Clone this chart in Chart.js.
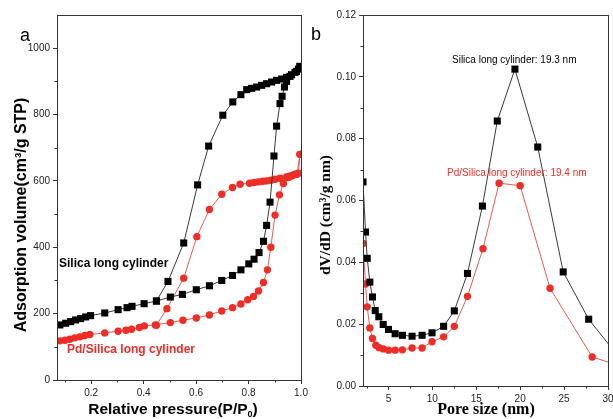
<!DOCTYPE html>
<html>
<head>
<meta charset="utf-8">
<script src="https://cdn.jsdelivr.net/npm/chart.js@4.4.0/dist/chart.umd.min.js"></script>
<style>
  html, body { margin: 0; padding: 0; background: #fff; }
  #wrap { position: relative; width: 613px; height: 419px; overflow: hidden; }
  #chartA { position: absolute; left: 0; top: 0; }
  #chartB { position: absolute; left: 306px; top: 0; }
</style>
</head>
<body>
<div id="wrap">
  <canvas id="chartA" width="320" height="419"></canvas>
  <canvas id="chartB" width="307" height="419"></canvas>
</div>
<script>
// (a) N2 isotherms - Silica long cylinder
const silicaAdsX = [0.081, 0.103, 0.122, 0.141, 0.160, 0.179, 0.198, 0.252, 0.303, 0.337, 0.356, 0.402, 0.449, 0.502, 0.548, 0.601, 0.651, 0.698, 0.739, 0.771, 0.801, 0.821, 0.840, 0.857, 0.869, 0.882, 0.897, 0.907, 0.920, 0.928, 0.937, 0.945, 0.958, 0.977, 0.990, 0.996];
const silicaAdsY = [166, 171, 176, 181, 185, 190, 194, 202, 212, 218, 222, 230, 238, 250, 258, 272, 284, 300, 315, 332, 350, 364, 384, 418, 466, 536, 675, 765, 833, 855, 883, 900, 915, 927, 937, 945];
const silicaDesX = [0.996, 0.983, 0.964, 0.945, 0.926, 0.907, 0.888, 0.869, 0.850, 0.831, 0.812, 0.793, 0.771, 0.740, 0.702, 0.648, 0.606, 0.553, 0.493, 0.449];
const silicaDesY = [945, 930, 920, 912, 907, 903, 898, 893, 888, 883, 879, 875, 860, 838, 798, 705, 588, 413, 297, 238];

// (a) N2 isotherms - Pd/Silica long cylinder
const pdAdsX = [0.081, 0.100, 0.119, 0.138, 0.157, 0.176, 0.195, 0.252, 0.303, 0.333, 0.354, 0.384, 0.403, 0.445, 0.502, 0.550, 0.601, 0.651, 0.698, 0.739, 0.771, 0.797, 0.819, 0.838, 0.857, 0.872, 0.885, 0.901, 0.918, 0.933, 0.952, 0.964, 0.977, 0.990, 0.996];
const pdAdsY = [118, 120, 123, 127, 130, 134, 137, 142, 147, 150, 153, 158, 163, 166, 173, 180, 187, 196, 208, 218, 229, 242, 252, 268, 294, 332, 400, 497, 558, 592, 610, 615, 620, 623, 680];
const pdDesX = [0.996, 0.985, 0.970, 0.955, 0.945, 0.920, 0.901, 0.885, 0.869, 0.854, 0.837, 0.821, 0.804, 0.768, 0.739, 0.698, 0.651, 0.603, 0.553, 0.489, 0.449];
const pdDesY = [680, 620, 617, 614, 612, 608, 605, 602, 600, 599, 597, 595, 593, 590, 580, 560, 514, 432, 307, 215, 165];

// (b) pore size distribution
const silicaPoreX = [2.1, 2.39, 2.58, 2.88, 3.18, 3.49, 3.9, 4.4, 5.0, 5.76, 6.59, 7.69, 8.83, 9.96, 11.28, 12.5, 14.0, 15.7, 17.39, 19.4, 22.0, 24.9, 27.8, 31.0];
const silicaPoreY = [0.066, 0.0498, 0.0413, 0.0336, 0.0288, 0.0244, 0.0224, 0.0199, 0.0183, 0.0169, 0.0164, 0.0161, 0.0164, 0.0172, 0.0193, 0.0243, 0.0364, 0.0582, 0.0857, 0.1025, 0.0773, 0.0369, 0.0216, 0.0102];
const pdPoreX = [2.1, 2.39, 2.58, 2.88, 3.18, 3.56, 3.94, 4.4, 5.0, 5.76, 6.59, 7.69, 8.83, 9.96, 11.28, 12.5, 14.0, 15.76, 17.6, 20.0, 23.4, 28.2, 31.0];
const pdPoreY = [0.0461, 0.033, 0.0256, 0.0188, 0.0154, 0.0132, 0.0124, 0.012, 0.0116, 0.0116, 0.0117, 0.0123, 0.0123, 0.0143, 0.0159, 0.0193, 0.029, 0.0444, 0.0656, 0.0648, 0.0316, 0.0094, 0.0068];

// ticks
const pressureTicks = [0.2, 0.4, 0.6, 0.8, 1.0];
const pressureMinor = [0.1, 0.3, 0.5, 0.7, 0.9];
const volumeTicks = [0, 200, 400, 600, 800, 1000];
const volumeMinor = [100, 300, 500, 700, 900];
const poreTicks = [5, 10, 15, 20, 25, 30];
const poreMinor = [2.5, 7.5, 12.5, 17.5, 22.5, 27.5];
const dvTicks = [0, 0.02, 0.04, 0.06, 0.08, 0.10, 0.12];
const dvMinor = [0.01, 0.03, 0.05, 0.07, 0.09, 0.11];

const BLACK = '#000000';
const BLACK_LINE = '#3a3a3a';
const RED = '#ee2d26';
const RED_LINE = '#f2574f';
const SANS = '"Liberation Sans", Arial, sans-serif';
const SERIF = '"Liberation Serif", "Times New Roman", serif';

function series(xs, ys, fill, line, style, r) {
    return {
        data: xs.map((x, i) => ({ x: x, y: ys[i] })),
        showLine: true,
        borderColor: line,
        borderWidth: 1,
        tension: 0,
        pointStyle: style,
        pointRadius: r,
        pointHoverRadius: r,
        pointBackgroundColor: fill,
        pointBorderColor: fill,
        pointBorderWidth: 0
    };
}

function axis(min, max, ticks, fmt, size, isX) {
    return {
        type: 'linear',
        min: min,
        max: max,
        afterBuildTicks: s => { s.ticks = ticks.map(v => ({ value: v })); },
        afterFit: s => {
            if (isX) s.height = size; else s.width = size;
            s.paddingLeft = 0; s.paddingRight = 0; s.paddingTop = 0; s.paddingBottom = 0;
        },
        ticks: {
            autoSkip: false,
            maxRotation: 0,
            padding: 3,
            color: '#222',
            font: { family: SANS, size: 10 },
            callback: v => fmt(v)
        },
        grid: { drawOnChartArea: false, drawTicks: true, tickLength: 4, color: '#333', tickWidth: 1 },
        border: { display: false }
    };
}

// frame, minor ticks and texts
function decor(minorX, minorY, texts) {
    return {
        id: 'decor',
        afterDraw(chart) {
            const ctx = chart.ctx;
            const a = chart.chartArea;
            const sx = chart.scales.x, sy = chart.scales.y;
            ctx.save();
            ctx.strokeStyle = '#333';
            ctx.lineWidth = 1;
            ctx.strokeRect(Math.round(a.left) + 0.5, Math.round(a.top) + 0.5,
                Math.round(a.right - a.left), Math.round(a.bottom - a.top));
            ctx.beginPath();
            minorX.forEach(v => {
                const px = Math.round(sx.getPixelForValue(v)) + 0.5;
                ctx.moveTo(px, a.bottom); ctx.lineTo(px, a.bottom + 2.5);
            });
            minorY.forEach(v => {
                const py = Math.round(sy.getPixelForValue(v)) + 0.5;
                ctx.moveTo(a.left, py); ctx.lineTo(a.left - 2.5, py);
            });
            ctx.stroke();
            texts(ctx);
            ctx.restore();
        }
    };
}

function label(ctx, text, x, y, font, color, align, rot) {
    ctx.save();
    ctx.translate(x, y);
    if (rot) ctx.rotate(rot);
    ctx.font = font;
    ctx.fillStyle = color;
    ctx.textAlign = align || 'center';
    ctx.textBaseline = 'middle';
    ctx.fillText(text, 0, 0);
    ctx.restore();
}

// text with a subscript part, centred at x
function subLabel(ctx, pre, sub, post, x, y, size) {
    ctx.save();
    ctx.fillStyle = '#000';
    ctx.textBaseline = 'alphabetic';
    const big = 'bold ' + size + 'px ' + SANS;
    const small = 'bold ' + Math.round(size * 0.6) + 'px ' + SANS;
    ctx.font = big;
    const w1 = ctx.measureText(pre).width, w3 = ctx.measureText(post).width;
    ctx.font = small;
    const w2 = ctx.measureText(sub).width;
    let cx = x - (w1 + w2 + w3) / 2;
    ctx.textAlign = 'left';
    ctx.font = big;
    ctx.fillText(pre, cx, y);
    cx += w1;
    ctx.font = small;
    ctx.fillText(sub, cx, y + 3);
    cx += w2;
    ctx.font = big;
    ctx.fillText(post, cx, y);
    ctx.restore();
}

Chart.defaults.animation = false;

new Chart(document.getElementById('chartA'), {
    type: 'scatter',
    data: {
        datasets: [
            series(silicaAdsX, silicaAdsY, BLACK, BLACK_LINE, 'rect', 5),
            series(silicaDesX, silicaDesY, BLACK, BLACK_LINE, 'rect', 5),
            series(pdAdsX, pdAdsY, RED, RED_LINE, 'circle', 3.7),
            series(pdDesX, pdDesY, RED, RED_LINE, 'circle', 3.7)
        ]
    },
    options: {
        responsive: false,
        layout: { padding: { top: 15, right: 19, left: 0, bottom: 0 } },
        plugins: { legend: { display: false }, tooltip: { enabled: false } },
        scales: {
            x: axis(0.07, 1.0, pressureTicks, v => v.toFixed(1), 39, true),
            y: axis(0, 1100, volumeTicks, v => String(v), 57, false)
        }
    },
    plugins: [decor(pressureMinor, volumeMinor, ctx => {
        label(ctx, 'a', 25, 36, '18px ' + SANS, '#000');
        label(ctx, 'Adsorption volume(cm\u00B3/g STP)', 22, 215, 'bold 16px ' + SANS, '#000', 'center', -Math.PI / 2);
        subLabel(ctx, 'Relative pressure(P/P', '0', ')', 173, 414, 15.5);
        label(ctx, 'Silica long cylinder', 59, 264, 'bold 12px ' + SANS, '#000', 'left');
        label(ctx, 'Pd/Silica long cylinder', 67, 350, 'bold 12px ' + SANS, RED, 'left');
    })]
});

new Chart(document.getElementById('chartB'), {
    type: 'scatter',
    data: {
        datasets: [
            series(silicaPoreX, silicaPoreY, BLACK, BLACK_LINE, 'rect', 5),
            series(pdPoreX, pdPoreY, RED, RED_LINE, 'circle', 3.7)
        ]
    },
    options: {
        responsive: false,
        layout: { padding: { top: 15, right: 5, left: 0, bottom: 0 } },
        plugins: { legend: { display: false }, tooltip: { enabled: false } },
        scales: {
            x: axis(2.1, 30, poreTicks, v => String(v), 33, true),
            y: axis(0, 0.12, dvTicks, v => v.toFixed(2), 57, false)
        }
    },
    plugins: [decor(poreMinor, dvMinor, ctx => {
        label(ctx, 'b', 10, 35, '18px ' + SANS, '#000');
        label(ctx, 'dV/dD (cm\u00B3/g nm)', 20, 215, 'bold 15.5px ' + SERIF, '#000', 'center', -Math.PI / 2);
        label(ctx, 'Pore size (nm)', 180, 410, 'bold 16px ' + SERIF, '#000');
        label(ctx, 'Silica long cylinder: 19.3 nm', 146, 60, '10px ' + SANS, '#000', 'left');
        label(ctx, 'Pd/Silica long cylinder: 19.4 nm', 141, 173, '10px ' + SANS, RED, 'left');
    })]
});
</script>
</body>
</html>
